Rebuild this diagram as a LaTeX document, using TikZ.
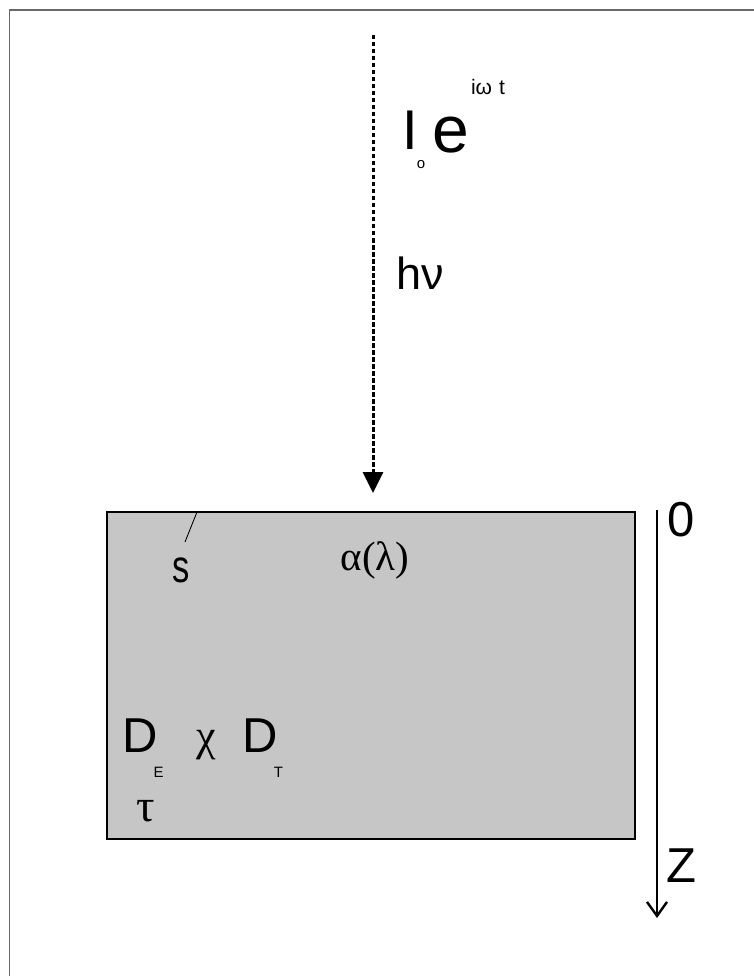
\documentclass[tikz,border=0pt]{standalone}
\usepackage{fontspec}
\setmainfont{Liberation Sans}
\newfontfamily\greekserif{Liberation Serif}
\usepackage{tikz}
\usetikzlibrary{positioning, arrows.meta}
\definecolor{slabgray}{RGB}{198,198,198}
\definecolor{framegray}{RGB}{105,105,105}
\newcommand{\fsize}[1]{\fontsize{#1}{#1}\selectfont}

\begin{document}
\begin{tikzpicture}[
    x=1pt, y=-1pt,
    slab style/.style={draw, fill=slabgray, line width=1.6pt, inner sep=0pt,
      minimum width=528pt, minimum height=327pt, anchor=north west},
    sym style/.style={inner sep=0pt, font=\fsize{49}},
    greek style/.style={inner sep=0pt, font=\greekserif\fsize{44}},
    sub style/.style={inner sep=0pt, font=\fsize{15}},
    beam style/.style={line width=3pt, dash pattern=on 4.5pt off 2.5pt,
      -{Triangle[width=20pt, length=21pt]}},
    axis style/.style={line width=2.4pt,
      -{Straight Barb[width=20pt, length=14pt, line width=2.4pt]}}
  ]
  \useasboundingbox (0,0) rectangle (754,976);

  % Frame
  \draw[framegray, line width=1.5pt] (9.5,976) -- (9.5,10) -- (754,10);

  % Incident light
  \coordinate (beamtop) at (373,35);
  \coordinate (beamend) at (373,493);
  \draw[beam style] (beamtop) -- (beamend);

  \node[inner sep=0pt, font=\fsize{56}] (I0)   at (410,130)   {I};
  \node[inner sep=0pt, font=\fsize{66}] (exp)  at (451,135)   {e};
  \node[inner sep=0pt, font=\fsize{15}] (sub0) at (421,165)   {o};
  \node[inner sep=0pt, font=\fsize{21}] (phase) at (488,86.5) {iω\hspace{7pt}t};
  \node[inner sep=0pt, font=\fsize{45}] (hnu)  at (420,273.5) {hν};

  % Sample
  \node[slab style] (slab) at (106,511) {};

  \coordinate (stick) at (197,512);
  \coordinate (stickend) at (185,542);
  \draw[line width=0.9pt] (stick) -- (stickend);
  \node[inner sep=0pt, font=\fsize{46}] (surf) at (181,570) {\scalebox{0.75}[1]{s}};
  \node[inner sep=0pt, font=\greekserif\fsize{41}] (absorb) at (375,560) {α(λ)};

  % Thermal parameters
  \node[sym style]   (DE)  at (140.5,735.5) {D};
  \node[sub style]   (E)   at (158.5,772)   {E};
  \node[greek style] (chi) at (206,745)     {χ};
  \node[sym style]   (DT)  at (260,735.5)   {D};
  \node[sub style]   (T)   at (278.5,772)   {T};
  \node[greek style, font=\greekserif\fsize{46}] (tau) at (146,811) {τ};

  % Depth axis
  \coordinate (axtop) at (657,510);
  \coordinate (axend) at (657,918);
  \draw[axis style] (axtop) -- (axend);
  \node[sym style] (zero)  at (681,519.5) {0};
  \node[sym style] (depth) at (681,865.5) {Z};

\end{tikzpicture}
\end{document}
